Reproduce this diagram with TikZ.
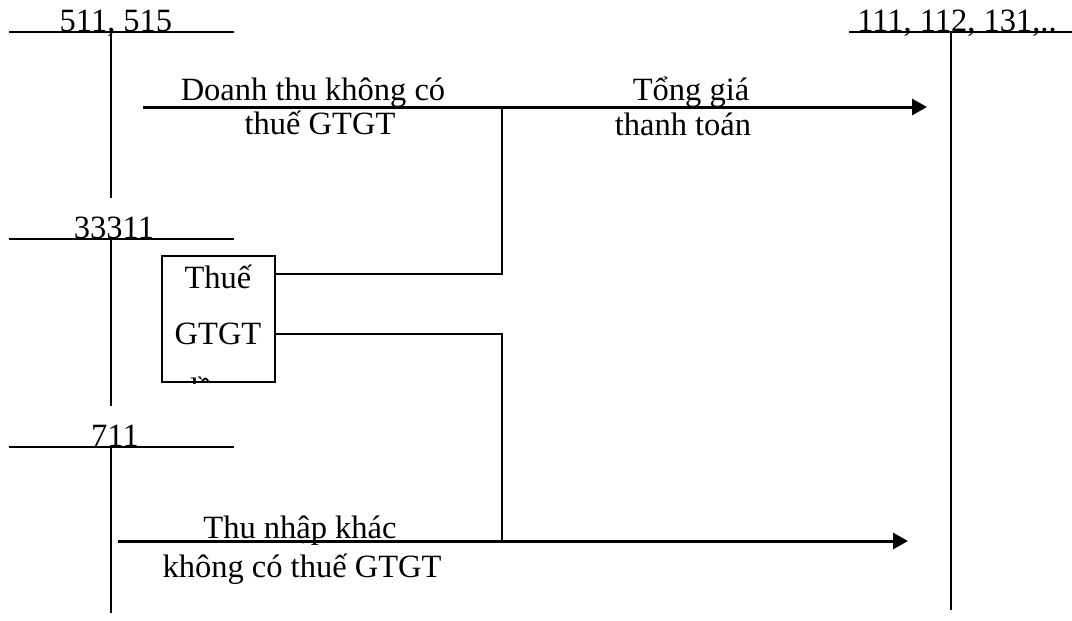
\documentclass[tikz,border=0pt]{standalone}
\usepackage{fontspec}
\setmainfont{Liberation Serif}
\usetikzlibrary{arrows.meta}

\begin{document}
\begin{tikzpicture}[x=1pt, y=-1pt, >={Triangle[length=15pt, width=16pt]},
    font=\fontsize{32.5}{39}\selectfont,
    acct_line/.style={line width=2pt},
    acct_name/.style={anchor=base, inner sep=0pt},
    flow/.style={->, line width=3pt},
    wire/.style={-, line width=2pt},
    note/.style={anchor=base, inner sep=0pt},
    tax_box/.style={draw, line width=2pt, minimum width=113pt,
                    minimum height=126pt, inner sep=0pt},
]
\useasboundingbox (0,0) rectangle (1072,621);

% --- Coordinates ---
\def\xL{9}
\def\xLR{234}
\def\xLv{111}
\def\xR{849}
\def\xRv{951}
\def\xj{502}

\def\ytop{32}
\def\yvat{239}
\def\yoth{447}
\def\yrev{107}
\def\yinc{541}

% --- T-account 511, 515 ---
\draw[acct_line] (\xL,\ytop) -- (\xLR,\ytop);
\draw[acct_line] (\xLv,\ytop) -- (\xLv,198);
\node[acct_name] (rev) at (116,31) {511, 515};

% --- T-account 33311 ---
\draw[acct_line] (\xL,\yvat) -- (\xLR,\yvat);
\draw[acct_line] (\xLv,\yvat) -- (\xLv,406);
\node[acct_name] (vat) at (114,238) {33311};

% --- T-account 711 ---
\draw[acct_line] (\xL,\yoth) -- (\xLR,\yoth);
\draw[acct_line] (\xLv,\yoth) -- (\xLv,613);
\node[acct_name] (oth) at (115,446) {711};

% --- T-account 111, 112, 131,.. ---
\draw[acct_line] (\xR,\ytop) -- (1072,\ytop);
\draw[acct_line] (\xRv,\ytop) -- (\xRv,610);
\node[acct_name] (cash) at (957,31) {111, 112, 131,..};

% --- VAT box ---
\node[tax_box] (tax) at (218.5,319) {};
\begin{scope}
  \clip (tax.south west) rectangle (tax.north east);
  \node[note] (tax_l1) at (218,288) {Thuế};
  \node[note] (tax_l2) at (218,344) {GTGT};
  \node[note] (tax_l3) at (222,400) {đầu ra};
\end{scope}

% --- Flows ---
\coordinate (rev_in)   at (143,\yrev);
\coordinate (cash_hi)  at (927,\yrev);
\coordinate (junc_hi)  at (\xj,\yrev);
\coordinate (inc_in)   at (118,\yinc);
\coordinate (cash_lo)  at (908,\yinc);
\coordinate (junc_lo)  at (\xj,\yinc);
\coordinate (vat_hi)   at (0,274);
\coordinate (vat_lo)   at (0,334);

\draw[flow] (rev_in) -- (cash_hi);
\draw[wire] (tax.east |- vat_hi) -| (junc_hi);
\draw[wire] (tax.east |- vat_lo) -| (junc_lo);
\draw[flow] (inc_in) -- (cash_lo);

% --- Labels ---
\node[note] (rev_t1) at (313,100) {Doanh thu không có};
\node[note] (rev_t2) at (320,134) {thuế GTGT};
\node[note] (sum_t1) at (691,100) {Tổng giá};
\node[note] (sum_t2) at (683,135) {thanh toán};
\node[note] (inc_t1) at (300,538) {Thu nhập khác};
\node[note] (inc_t2) at (302,577) {không có thuế GTGT};

\end{tikzpicture}
\end{document}
